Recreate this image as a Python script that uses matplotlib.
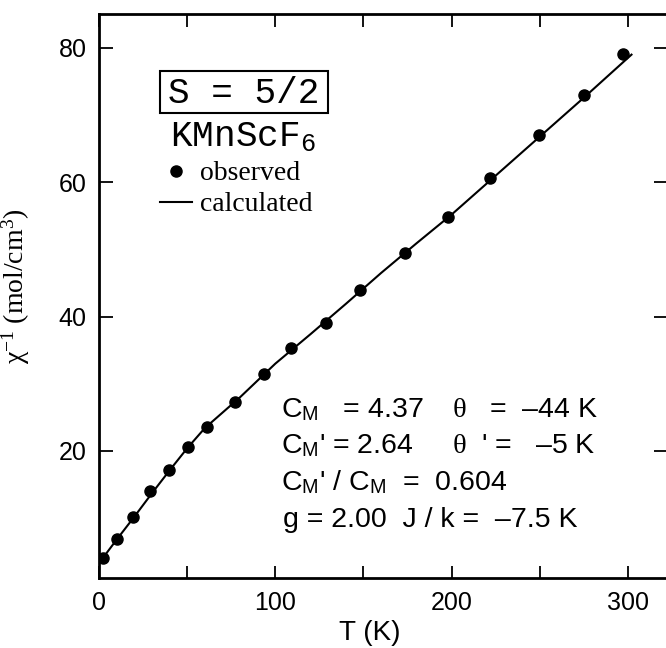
import matplotlib
matplotlib.use("Agg")
import matplotlib.pyplot as plt
from matplotlib.patches import Rectangle
from matplotlib.ticker import MultipleLocator

plt.rcParams['font.family'] = ['Liberation Sans', 'DejaVu Sans']
plt.rcParams['mathtext.fontset'] = 'custom'
plt.rcParams['mathtext.rm'] = 'Liberation Serif'
plt.rcParams['mathtext.it'] = 'Liberation Serif:italic'
plt.rcParams['mathtext.sf'] = 'Liberation Sans'
plt.rcParams['mathtext.tt'] = 'Liberation Mono'

# observed data
T_obs = [2, 10, 19.5, 29, 39.5, 50.5, 61, 77, 93.5, 109, 128.5, 148, 173.5, 198, 222, 249.5, 275, 297]
chi_obs = [4.0, 6.9, 10.1, 14.0, 17.2, 20.6, 23.6, 27.3, 31.5, 35.4, 39.1, 43.9, 49.4, 54.8, 60.6, 67.0, 73.0, 79.1]

# calculated curve
T_calc = [0, 10, 20, 30, 40, 50, 60, 80, 100, 120, 140, 160, 180, 200, 225, 250, 275, 302]
chi_calc = [3.3, 6.8, 10.2, 13.7, 17.1, 20.4, 23.4, 28.0, 33.0, 37.4, 41.9, 46.5, 50.9, 55.2, 61.0, 66.8, 72.6, 79.0]

x_major = [0, 100, 200, 300]
y_major = [20, 40, 60, 80]

fig = plt.figure(figsize=(6.66, 6.48), dpi=100)
ax = fig.add_axes([99/666, 70/648, 569/666, 564/648])

ax.plot(T_calc, chi_calc, color='black', lw=1.5, label='calculated', zorder=2)
ax.plot(T_obs, chi_obs, 'o', color='black', ms=8, label='observed', zorder=3)

ax.set_xlim(0, 322.7)
ax.set_ylim(1.09, 85.05)
ax.set_xticks(x_major)
ax.set_yticks(y_major)
ax.xaxis.set_minor_locator(MultipleLocator(50))

for s in ax.spines.values():
    s.set_linewidth(2.0)

ax.tick_params(which='both', direction='in', top=True, right=True,
               width=1.3, labelsize=18, colors='black')
ax.tick_params(axis='x', which='both', length=9, pad=9)
ax.tick_params(axis='y', which='major', length=10, pad=9)

ax.set_xlabel('T (K)', fontsize=20)
ax.xaxis.set_label_coords((370-99)/569, -0.075)
ax.set_ylabel(r'$\mathrm{\chi}^{-1}$ (mol/cm$^3$)', fontsize=20, family='Liberation Serif')
ax.yaxis.set_label_coords(-(99-32)/569, (578-286)/564)

def axc(px, py):
    return ((px-99)/569, (578-py)/564)

# S = 5/2 box
x0, y1 = axc(160, 71)
x1, y0 = axc(328, 113)
ax.add_patch(Rectangle((x0, y0), x1-x0, y1-y0, transform=ax.transAxes,
                       fill=False, lw=1.5, ec='black', zorder=4))
ax.text(*axc(244, 103), 'S = 5/2', transform=ax.transAxes, ha='center', va='baseline',
        family='Liberation Mono', fontsize=26)
ax.text(*axc(243, 147), r'KMnScF$_\mathtt{6}$', transform=ax.transAxes, ha='center', va='baseline',
        family='Liberation Mono', fontsize=26)

h, l = ax.get_legend_handles_labels()
leg = ax.legend([h[1], h[0]], [l[1], l[0]], loc='upper left',
                bbox_to_anchor=axc(160, 161), frameon=False,
                prop={'family': 'Liberation Serif', 'size': 20},
                handlelength=1.15, handletextpad=0.3, labelspacing=0.2,
                borderpad=0, borderaxespad=0)

fs = 20.5
ax.text(*axc(281, 417), r'C$_\mathsf{M}$   = 4.37', transform=ax.transAxes, fontsize=fs, va='baseline')
ax.text(*axc(452, 417), r'$\mathrm{\theta}$   =  –44 K', transform=ax.transAxes, fontsize=fs, va='baseline')
ax.text(*axc(281, 453), r"C$_\mathsf{M}$' = 2.64", transform=ax.transAxes, fontsize=fs, va='baseline')
ax.text(*axc(452, 453), r"$\mathrm{\theta}$  ' =   –5 K", transform=ax.transAxes, fontsize=fs, va='baseline')
ax.text(*axc(281, 490), r"C$_\mathsf{M}$' / C$_\mathsf{M}$  =  0.604", transform=ax.transAxes, fontsize=fs, va='baseline')
ax.text(*axc(283, 527), 'g = 2.00  J / k =  –7.5 K', transform=ax.transAxes, fontsize=fs, va='baseline')

fig.savefig('out.png', dpi=100)
